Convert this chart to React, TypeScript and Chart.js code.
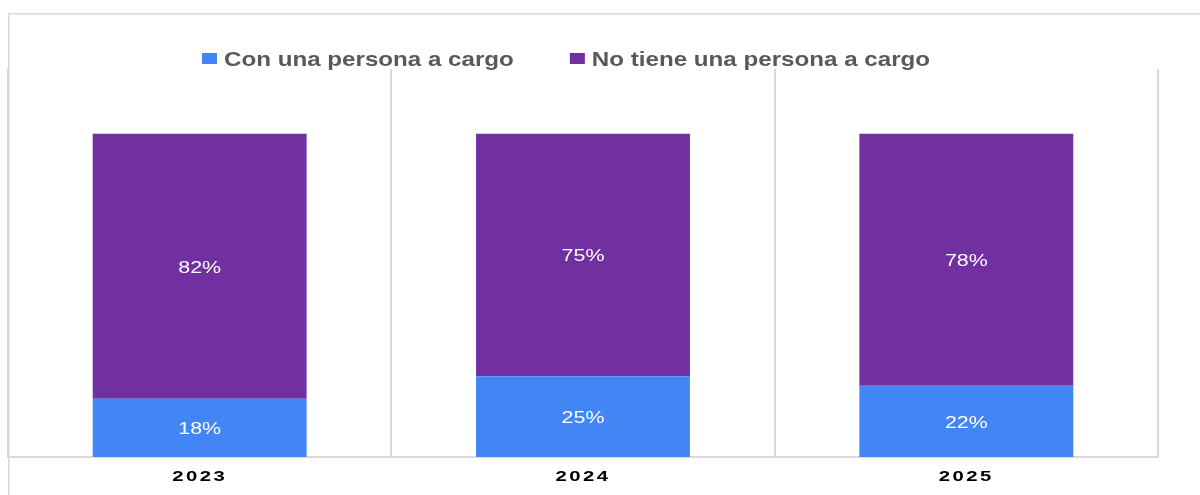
import React, { useEffect, useRef } from "react";
import { Chart, registerables } from "chart.js";

Chart.register(...registerables);

const categories = ["2023", "2024", "2025"];
const conPersona = [18, 25, 22];
const noTienePersona = [82, 75, 78];
const seriesLabels = ["Con una persona a cargo", "No tiene una persona a cargo"];
const seriesColors = ["#4285F4", "#7030A0"];

const FONT = '"Liberation Sans", Arial, sans-serif';

const customPlugin = {
  id: "customDraw",
  beforeDraw(chart: any) {
    const ctx = chart.ctx;
    ctx.save();
    ctx.fillStyle = "#d9d9d9";
    ctx.fillRect(8, 13, 1192, 1.5);
    ctx.fillRect(8, 13, 1.5, 482);
    ctx.restore();
  },
  afterDatasetsDraw(chart: any) {
    const ctx = chart.ctx;
    ctx.save();
    ctx.fillStyle = "#ffffff";
    ctx.font = `16px ${FONT}`;
    ctx.textAlign = "center";
    ctx.textBaseline = "alphabetic";
    chart.data.datasets.forEach((ds: any, di: number) => {
      const meta = chart.getDatasetMeta(di);
      meta.data.forEach((bar: any, i: number) => {
        const cy = (bar.y + bar.base) / 2;
        ctx.save();
        ctx.translate(bar.x, cy + 6.5);
        ctx.scale(1.34, 1);
        ctx.fillText(`${ds.data[i]}%`, 0, 0);
        ctx.restore();
      });
    });
    ctx.restore();
  },
  afterDraw(chart: any) {
    const ctx = chart.ctx;
    const xScale = chart.scales.x;
    // x tick labels
    ctx.save();
    ctx.fillStyle = "#000000";
    ctx.font = `bold 14px ${FONT}`;
    ctx.textAlign = "center";
    ctx.textBaseline = "alphabetic";
    try {
      (ctx as any).letterSpacing = "1.7px";
    } catch (e) {}
    categories.forEach((lab, i) => {
      const x = xScale.getPixelForTick(i);
      ctx.save();
      ctx.translate(x, 480.5);
      ctx.scale(1.45, 1);
      ctx.fillText(lab, 0, 0);
      ctx.restore();
    });
    ctx.restore();

    // legend
    ctx.save();
    ctx.font = `bold 21px ${FONT}`;
    ctx.textAlign = "left";
    ctx.textBaseline = "alphabetic";
    const sx = 1.15;
    let x = 202;
    seriesLabels.forEach((lab, i) => {
      ctx.fillStyle = seriesColors[i];
      ctx.fillRect(x, 53, 15, 11);
      const tx = x + 22;
      ctx.fillStyle = "#595959";
      ctx.save();
      ctx.translate(tx, 66);
      ctx.scale(sx, 1);
      ctx.fillText(lab, 0, 0);
      ctx.restore();
      const w = ctx.measureText(lab).width * sx;
      x = tx + w + 56;
    });
    ctx.restore();
  },
};

export default function App() {
  const canvasRef = useRef<HTMLCanvasElement | null>(null);

  useEffect(() => {
    document.body.style.margin = "0";
    const canvas = canvasRef.current;
    if (!canvas) return;
    const chart = new Chart(canvas, {
      type: "bar",
      data: {
        labels: categories,
        datasets: [
          {
            label: seriesLabels[0],
            data: conPersona,
            backgroundColor: seriesColors[0],
            borderWidth: 0,
            barPercentage: 0.558,
            categoryPercentage: 1,
          },
          {
            label: seriesLabels[1],
            data: noTienePersona,
            backgroundColor: seriesColors[1],
            borderWidth: 0,
            barPercentage: 0.558,
            categoryPercentage: 1,
          },
        ],
      },
      options: {
        responsive: false,
        animation: false,
        events: [],
        layout: { padding: { left: 8, right: 42, top: 69, bottom: 38 } },
        plugins: {
          legend: { display: false },
          tooltip: { enabled: false },
        },
        scales: {
          x: {
            stacked: true,
            grid: {
              display: true,
              color: "#d9d9d9",
              lineWidth: 2,
              drawTicks: false,
              offset: true,
            },
            border: { display: true, color: "#d9d9d9", width: 2 },
            ticks: { display: false },
          },
          y: {
            stacked: true,
            display: false,
            min: 0,
            max: 120,
          },
        },
      },
      plugins: [customPlugin],
    } as any);
    return () => chart.destroy();
  }, []);

  return (
    <div style={{ width: 1200, height: 495 }}>
      <canvas ref={canvasRef} width={1200} height={495} style={{ display: "block" }} />
    </div>
  );
}
